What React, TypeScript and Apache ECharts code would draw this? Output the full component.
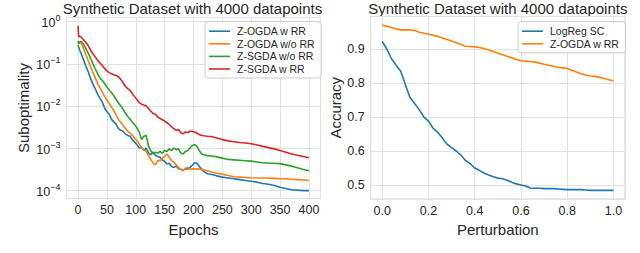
import React, { useEffect, useRef } from 'react';
import * as echarts from 'echarts';

// ---------- Left chart: Suboptimality (log10 exponents) ----------
const epochs = [
  0, 1, 3, 6, 10, 14, 18, 22, 26, 30,
  34, 38, 42, 46, 50, 54, 58, 62, 66, 70,
  74, 78, 82, 86, 90, 94, 98, 102, 106, 110,
  114, 118, 122, 126, 130, 134, 138, 142, 146, 150,
  154, 158, 162, 166, 170, 174, 178, 182, 186, 190,
  194, 198, 202, 206, 210, 214, 218, 224, 232, 240,
  250, 260, 270, 280, 290, 300, 310, 320, 330, 340,
  350, 360, 370, 380, 390, 400,
];

const zOgdaWithRRExp = [
  -0.56, -0.6, -0.68, -0.78, -0.92, -1.07, -1.2, -1.36, -1.49, -1.6,
  -1.72, -1.82, -1.91, -2.05, -2.14, -2.2, -2.32, -2.38, -2.44, -2.54,
  -2.58, -2.6, -2.67, -2.7, -2.72, -2.8, -2.86, -2.92, -3.0, -2.98,
  -3.06, -3.0, -3.12, -3.16, -3.1, -3.17, -3.2, -3.22, -3.28, -3.32,
  -3.38, -3.36, -3.44, -3.46, -3.43, -3.49, -3.5, -3.53, -3.49, -3.5,
  -3.46, -3.41, -3.35, -3.36, -3.44, -3.5, -3.56, -3.61, -3.63, -3.66,
  -3.69, -3.71, -3.73, -3.75, -3.77, -3.79, -3.81, -3.84, -3.86, -3.89,
  -3.93, -3.96, -3.99, -4.0, -4.01, -4.01,
];

const zOgdaWithoutRRExp = [
  -0.54, -0.52, -0.5, -0.52, -0.65, -0.8, -0.94, -1.08, -1.21, -1.34,
  -1.47, -1.58, -1.67, -1.78, -1.86, -1.94, -2.03, -2.11, -2.22, -2.32,
  -2.39, -2.46, -2.53, -2.6, -2.65, -2.7, -2.76, -2.82, -2.9, -3.0,
  -3.05, -3.08, -3.18, -3.27, -3.36, -3.4, -3.3, -3.3, -3.24, -3.2,
  -3.14, -3.22, -3.3, -3.34, -3.4, -3.46, -3.5, -3.54, -3.48, -3.46,
  -3.5, -3.49, -3.5, -3.49, -3.5, -3.51, -3.52, -3.54, -3.57, -3.6,
  -3.62, -3.65, -3.68, -3.69, -3.7, -3.71, -3.71, -3.71, -3.71, -3.72,
  -3.73, -3.73, -3.74, -3.75, -3.76, -3.77,
];

const zSgdaWithoutRRExp = [
  -0.46, -0.52, -0.48, -0.47, -0.55, -0.65, -0.76, -0.88, -1.01, -1.13,
  -1.24, -1.34, -1.4, -1.47, -1.55, -1.62, -1.69, -1.76, -1.85, -1.93,
  -2.0, -2.08, -2.17, -2.25, -2.31, -2.38, -2.45, -2.52, -2.62, -2.8,
  -2.72, -2.7, -2.95, -3.06, -3.14, -3.1, -3.12, -3.08, -3.12, -3.06,
  -3.08, -3.02, -3.06, -3.0, -3.04, -3.02, -3.12, -3.14, -3.08, -3.06,
  -3.0, -2.94, -2.92, -2.96, -3.06, -3.14, -3.16, -3.18, -3.19, -3.21,
  -3.24, -3.27, -3.28, -3.29, -3.3, -3.31, -3.33, -3.35, -3.36, -3.36,
  -3.37, -3.4, -3.43, -3.47, -3.51, -3.54,
];

const zSgdaWithRRExp = [
  -0.1, -0.36, -0.35, -0.37, -0.44, -0.5, -0.58, -0.68, -0.77, -0.84,
  -0.92, -0.98, -1.04, -1.11, -1.17, -1.21, -1.24, -1.26, -1.28, -1.31,
  -1.37, -1.45, -1.54, -1.59, -1.63, -1.71, -1.78, -1.85, -1.92, -1.96,
  -1.98, -2.0, -2.06, -2.12, -2.18, -2.2, -2.26, -2.3, -2.33, -2.36,
  -2.4, -2.44, -2.5, -2.54, -2.58, -2.56, -2.64, -2.66, -2.62, -2.63,
  -2.6, -2.6, -2.62, -2.65, -2.68, -2.7, -2.71, -2.72, -2.73, -2.76,
  -2.8, -2.83, -2.85, -2.87, -2.88, -2.9, -2.93, -2.96, -2.99, -3.02,
  -3.06, -3.1, -3.14, -3.17, -3.2, -3.23,
];

const leftNames = ['Z-OGDA w RR', 'Z-OGDA w/o RR', 'Z-SGDA w/o RR', 'Z-SGDA w RR'];
const leftXTicks = [0, 50, 100, 150, 200, 250, 300, 350, 400];

// ---------- Right chart: Accuracy vs perturbation ----------
const perturbation = [
  0.0, 0.02, 0.04, 0.06, 0.08, 0.1, 0.12, 0.14, 0.16, 0.18,
  0.2, 0.22, 0.24, 0.26, 0.28, 0.3, 0.32, 0.34, 0.36, 0.38,
  0.4, 0.42, 0.44, 0.46, 0.48, 0.5, 0.52, 0.54, 0.56, 0.58,
  0.6, 0.62, 0.64, 0.66, 0.68, 0.7, 0.72, 0.74, 0.76, 0.78,
  0.8, 0.82, 0.84, 0.86, 0.88, 0.9, 0.92, 0.94, 0.96, 0.98, 1.0,
];

const logRegSC = [
  0.923, 0.9, 0.872, 0.853, 0.835, 0.795, 0.758, 0.74, 0.722, 0.7,
  0.688, 0.667, 0.655, 0.638, 0.62, 0.61, 0.6, 0.588, 0.572, 0.563,
  0.55, 0.543, 0.535, 0.529, 0.524, 0.52, 0.518, 0.514, 0.508, 0.503,
  0.5, 0.497, 0.491, 0.49, 0.49, 0.489, 0.489, 0.489, 0.488, 0.487,
  0.486, 0.486, 0.486, 0.486, 0.485, 0.484, 0.484, 0.484, 0.484, 0.484, 0.484,
];

const zOgdaWithRRAcc = [
  0.971, 0.968, 0.964, 0.96, 0.957, 0.957, 0.957, 0.955, 0.95, 0.947,
  0.944, 0.941, 0.938, 0.933, 0.929, 0.924, 0.919, 0.914, 0.909, 0.908,
  0.907, 0.905, 0.902, 0.898, 0.893, 0.889, 0.884, 0.879, 0.875, 0.87,
  0.866, 0.865, 0.864, 0.862, 0.859, 0.856, 0.853, 0.85, 0.847, 0.845,
  0.843, 0.838, 0.833, 0.828, 0.824, 0.821, 0.82, 0.817, 0.814, 0.81, 0.807,
];

const rightNames = ['LogReg SC', 'Z-OGDA w RR'];

const titleText = 'Synthetic Dataset with 4000 datapoints';

const FONT = "'Liberation Sans', Arial, Helvetica, sans-serif";
const TXT = '#262626';
const GRIDC = '#e2e2e2';
const BORDER = '#d4d4d4';
const C = ['#1f77b4', '#ff7f0e', '#2ca02c', '#d62728'];

export default function App() {
  const ref = useRef<HTMLDivElement>(null);
  useEffect(() => {
    const chart = echarts.init(ref.current!, null, { renderer: 'svg' });
    const leftSets = [zOgdaWithRRExp, zOgdaWithoutRRExp, zSgdaWithoutRRExp, zSgdaWithRRExp];
    const rightSets = [logRegSC, zOgdaWithRRAcc];
    const lineSeries = (name: string, color: string, xi: number, data: any[]) => ({
      name,
      type: 'line',
      xAxisIndex: xi,
      yAxisIndex: xi,
      data,
      symbol: 'none',
      showSymbol: false,
      lineStyle: { color, width: 1.6 },
      itemStyle: { color },
      emphasis: { disabled: true },
      z: 3,
    });
    const tickLabel = { fontSize: 12.5, color: TXT, fontFamily: FONT };
    const nameStyle = { fontSize: 15, color: TXT, fontFamily: FONT };
    const legendBase = {
      orient: 'vertical',
      icon: 'rect',
      itemWidth: 21,
      itemHeight: 1.6,
      itemGap: 1.6,
      backgroundColor: 'rgba(255,255,255,0.85)',
      borderColor: '#cccccc',
      borderWidth: 1,
      borderRadius: 3,
      textStyle: { fontSize: 10.5, color: TXT, fontFamily: FONT, padding: [0, 0, 0, 2] },
      selectedMode: false,
    };
    chart.setOption({
      animation: false,
      backgroundColor: '#ffffff',
      graphic: [
        {
          type: 'text',
          x: 192.5,
          y: 1,
          style: { text: titleText, fontSize: 15, fill: TXT, fontFamily: FONT, textAlign: 'center', textVerticalAlign: 'top' },
        },
        {
          type: 'text',
          x: 497.8,
          y: 1,
          style: { text: titleText, fontSize: 15, fill: TXT, fontFamily: FONT, textAlign: 'center', textVerticalAlign: 'top' },
        },
      ],
      grid: [
        { left: 66.5, top: 17.4, width: 254, height: 181.2, show: true, borderColor: BORDER, borderWidth: 1, backgroundColor: 'transparent' },
        { left: 370.7, top: 16.5, width: 254.3, height: 182.5, show: true, borderColor: BORDER, borderWidth: 1, backgroundColor: 'transparent' },
      ],
      legend: [
        {
          ...legendBase,
          left: 205,
          top: 21.7,
          padding: [4, 6, 3.5, 4],
          data: leftNames.map((n, i) => ({ name: n, itemStyle: { color: C[i] } })),
        },
        {
          ...legendBase,
          left: 518,
          top: 21.7,
          padding: [4, 6, 3.5, 4],
          data: rightNames.map((n, i) => ({ name: n, itemStyle: { color: C[i] } })),
        },
      ],
      xAxis: [
        {
          type: 'value',
          gridIndex: 0,
          min: -20,
          max: 420,
          minInterval: 50,
          maxInterval: 50,
          axisLine: { show: false },
          axisTick: { show: false },
          splitLine: { show: true, lineStyle: { color: GRIDC, width: 1 } },
          axisLabel: {
            ...tickLabel,
            margin: 5,
            formatter: (v: number) => (leftXTicks.indexOf(Math.round(v)) >= 0 && Math.abs(v - Math.round(v)) < 1e-6 ? String(Math.round(v)) : ''),
          },
          name: 'Epochs',
          nameLocation: 'middle',
          nameGap: 15,
          nameTextStyle: nameStyle,
        },
        {
          type: 'value',
          gridIndex: 1,
          min: -0.05,
          max: 1.05,
          minInterval: 0.2,
          maxInterval: 0.2,
          axisLine: { show: false },
          axisTick: { show: false },
          splitLine: { show: true, lineStyle: { color: GRIDC, width: 1 } },
          axisLabel: {
            ...tickLabel,
            margin: 5,
            formatter: (v: number) => (v >= -1e-6 && v <= 1 + 1e-6 ? v.toFixed(1) : ''),
          },
          name: 'Perturbation',
          nameLocation: 'middle',
          nameGap: 15,
          nameTextStyle: nameStyle,
        },
      ],
      yAxis: [
        {
          type: 'log',
          logBase: 10,
          gridIndex: 0,
          min: Math.pow(10, -4.2),
          max: Math.pow(10, 0.1),
          axisLine: { show: false },
          axisTick: { show: false },
          minorSplitLine: { show: false },
          splitLine: { show: true, lineStyle: { color: GRIDC, width: 1 } },
          axisLabel: {
            ...tickLabel,
            margin: 6,
            formatter: (v: number) => {
              const l = Math.log10(v);
              const e = Math.round(l);
              if (Math.abs(l - e) > 0.01) return '';
              return '{b|10}{s|' + (e === 0 ? '0' : '\u2212' + String(-e)) + '}';
            },
            rich: {
              b: { fontSize: 12.5, color: TXT, fontFamily: FONT, verticalAlign: 'bottom' },
              s: { fontSize: 9, color: TXT, fontFamily: FONT, verticalAlign: 'bottom', padding: [0, 0, 7, 0] },
            },
          },
          name: 'Suboptimality',
          nameLocation: 'middle',
          nameGap: 36,
          nameTextStyle: nameStyle,
        },
        {
          type: 'value',
          gridIndex: 1,
          min: 0.4585,
          max: 0.9965,
          minInterval: 0.1,
          maxInterval: 0.1,
          axisLine: { show: false },
          axisTick: { show: false },
          splitLine: { show: true, lineStyle: { color: GRIDC, width: 1 } },
          axisLabel: {
            ...tickLabel,
            margin: 6,
            formatter: (v: number) => {
              const r = Math.round(v * 10) / 10;
              return Math.abs(v - r) < 1e-6 && r >= 0.5 && r <= 0.9 ? r.toFixed(1) : '';
            },
          },
          name: 'Accuracy',
          nameLocation: 'middle',
          nameGap: 27,
          nameTextStyle: nameStyle,
        },
      ],
      series: [
        ...leftNames.map((n, i) =>
          lineSeries(n, C[i], 0, epochs.map((e, k) => [e, Math.pow(10, leftSets[i][k])]))
        ),
        ...rightNames.map((n, i) =>
          lineSeries(n, C[i], 1, perturbation.map((p, k) => [p, rightSets[i][k]]))
        ),
      ],
    });
    return () => chart.dispose();
  }, []);
  return <div ref={ref} style={{ position: 'fixed', left: 0, top: 0, width: 640, height: 253 }} />;
}
